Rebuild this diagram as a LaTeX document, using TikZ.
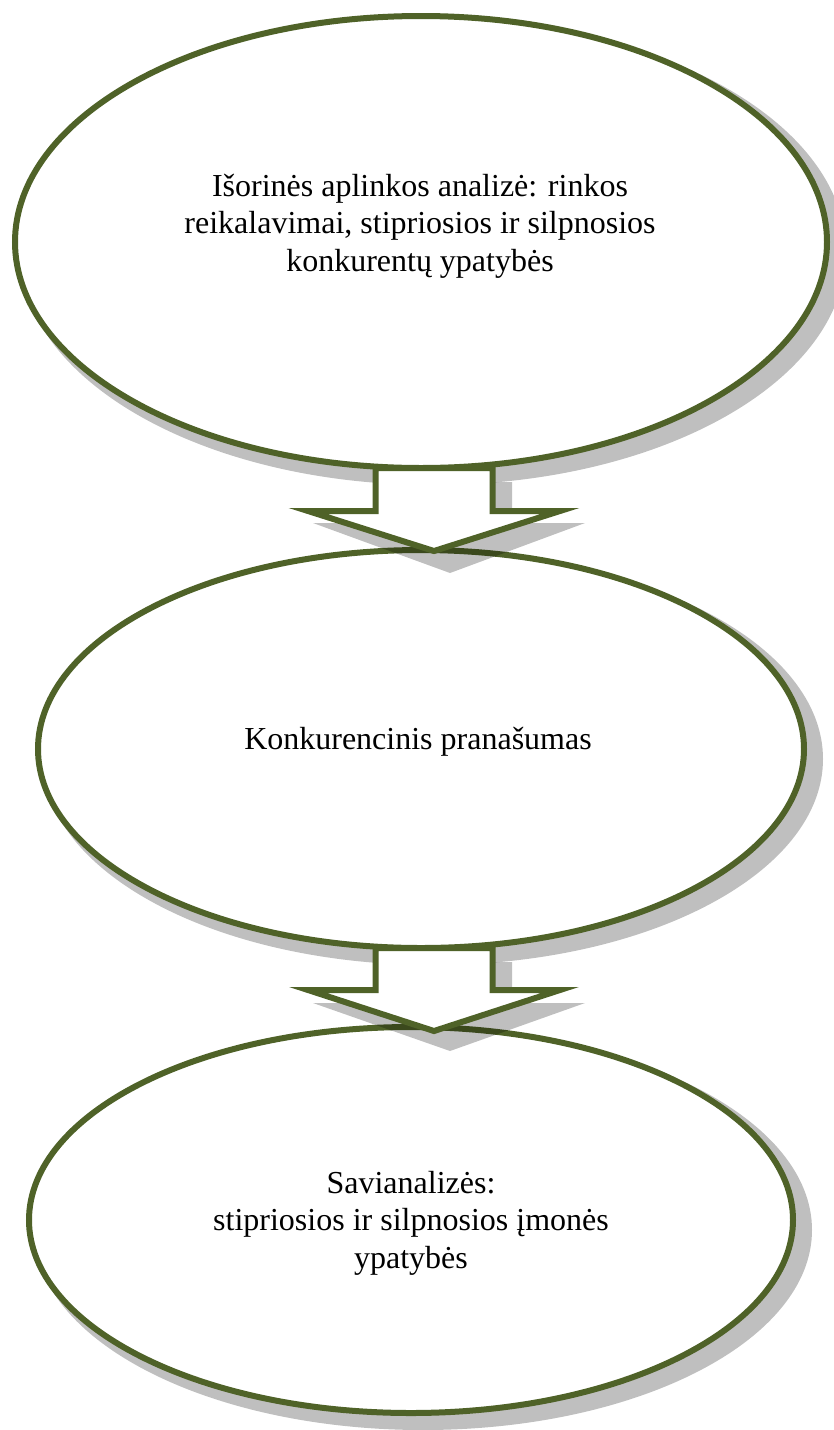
\documentclass[tikz,border=0pt]{standalone}
\usepackage{fontspec}
\setmainfont{Liberation Serif}
\usetikzlibrary{shapes.geometric,calc}
\definecolor{olive}{HTML}{4F6228}
\tikzset{
  oval/.style={ellipse, draw=olive, line width=6pt, fill=white, inner sep=0pt, outer sep=0pt},
  ovalshadow/.style={ellipse, fill=black, fill opacity=0.25, draw=none, inner sep=0pt, outer sep=0pt},
  blockarrow/.style={draw=olive, line width=6pt, fill=white, miter limit=10, line join=miter},
  arrowshadow/.style={fill=black, fill opacity=0.25, draw=none},
  txt/.style={align=center, font=\fontsize{32}{37.5}\selectfont, inner sep=0pt}
}
\begin{document}
\begin{tikzpicture}[x=1pt,y=-1pt]
\useasboundingbox (0,0) rectangle (833,1430);
% ellipse 1
\node[ovalshadow, minimum width=826pt, minimum height=466pt] (s1) at (433,252) {};
\node[oval, minimum width=812pt, minimum height=452pt] (e1) at (421,242) {};
% ellipse 2
\node[ovalshadow, minimum width=780pt, minimum height=412pt] (s2) at (433,759) {};
\node[oval, minimum width=766pt, minimum height=398pt] (e2) at (421,749) {};
% arrow 1
\coordinate (a1) at ($(e1.south)+(13,0)$);
\fill[arrowshadow] ($(a1)+(-43,14)$) -- ($(a1)+(78,14)$) -- ($(a1)+(78,55)$) -- ($(a1)+(151,55)$) -- ($(a1)+(16,105)$) -- ($(a1)+(-121,55)$) -- ($(a1)+(-43,55)$) -- cycle;
\draw[blockarrow] ($(a1)+(-58.5,0)$) -- ($(a1)+(58.5,0)$) -- ($(a1)+(58.5,43)$) -- ($(a1)+(126,43)$) -- ($(a1)+(0,83)$) -- ($(a1)+(-126,43)$) -- ($(a1)+(-58.5,43)$) -- cycle;
% ellipse 3
\node[ovalshadow, minimum width=778pt, minimum height=400pt] (s3) at (423,1230) {};
\node[oval, minimum width=764pt, minimum height=386pt] (e3) at (411,1220) {};
% arrow 2
\coordinate (a2) at ($(e2.south)+(13,0)$);
\fill[arrowshadow] ($(a2)+(-43,14)$) -- ($(a2)+(78,14)$) -- ($(a2)+(78,55)$) -- ($(a2)+(151,55)$) -- ($(a2)+(16,103)$) -- ($(a2)+(-121,55)$) -- ($(a2)+(-43,55)$) -- cycle;
\draw[blockarrow] ($(a2)+(-58.5,0)$) -- ($(a2)+(58.5,0)$) -- ($(a2)+(58.5,42)$) -- ($(a2)+(126,42)$) -- ($(a2)+(0,83)$) -- ($(a2)+(-126,42)$) -- ($(a2)+(-58.5,42)$) -- cycle;
% texts
\node[txt] (t1) at (420,226) {Išorinės aplinkos analizė: rinkos\\reikalavimai, stipriosios ir silpnosios\\konkurentų ypatybės};
\node[txt] (t2) at (418,742) {Konkurencinis pranašumas};
\node[txt] (t3) at (411,1223) {Savianalizės:\\ stipriosios ir silpnosios įmonės\\ypatybės};
\end{tikzpicture}
\end{document}
